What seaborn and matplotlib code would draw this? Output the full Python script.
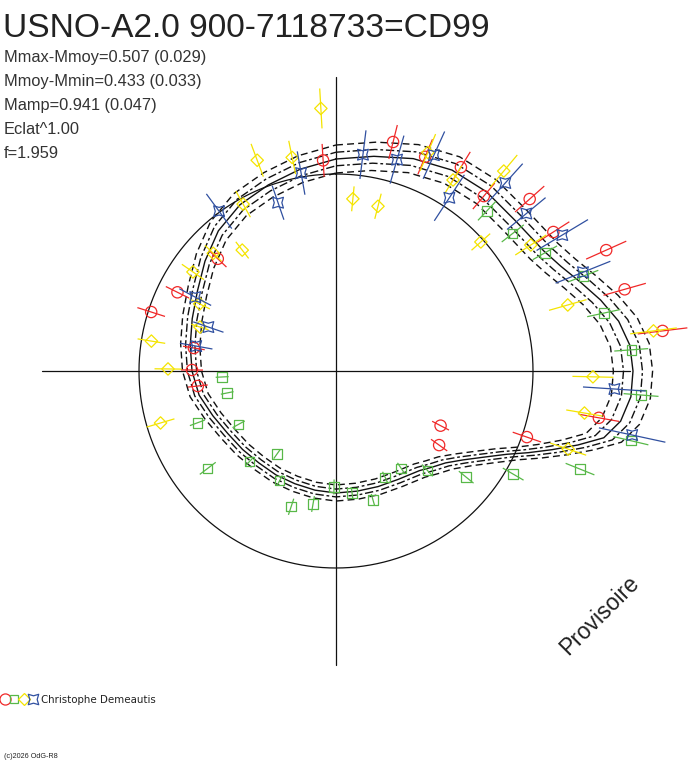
import numpy as np
import pandas as pd
import matplotlib
matplotlib.use("Agg")
import matplotlib.pyplot as plt
import seaborn as sns
from matplotlib.path import Path
from matplotlib.lines import Line2D
from matplotlib.legend_handler import HandlerTuple

sns.set_theme(style="white")
plt.rcParams['font.family'] = ['Liberation Sans', 'DejaVu Sans']

# ---------------- data ----------------
title = "USNO-A2.0 900-7118733=CD99"
stats = ["Mmax-Mmoy=0.507 (0.029)", "Mmoy-Mmin=0.433 (0.033)",
         "Mamp=0.941 (0.047)", "Eclat^1.00", "f=1.959"]
observer = "Christophe Demeautis"
watermark = "Provisoire"
copyright_txt = "(c)2026 OdG-R8"

# model light curve (phase angle in degrees, radius)
curve_theta = [0, 10, 20, 30, 40, 50, 60, 65, 70, 75, 80, 85, 90, 95, 100, 104, 107,
               110, 113, 116, 120, 125, 130, 135, 140, 150, 160, 170, 180, 190, 200,
               210, 220, 230, 240, 250, 260, 270, 280, 290, 300, 310, 320, 330, 340, 350]
curve_r = [212, 218, 226, 232, 234, 234, 240, 248, 260, 274, 287, 295, 297, 296, 289, 276, 253,
           230, 209, 190, 172, 155, 143, 136, 130, 125, 123, 122, 122, 121, 120,
           120, 120, 122, 125, 131, 139, 144, 148, 153, 160, 171, 183, 192, 198, 205]
band_inner = 0.032
band_outer = 0.066
ref_radius = 197
axis_len = 294

red_theta = [356.5, 14.0, 22.6, 31.5, 40.2, 48.4, 57.4, 65.9, 74.2, 83.0, 100.1, 109.1,
             117.6, 125.7, 313.5, 296.4, 287.7, 279.2, 270.4, 263.8]
red_r = [211, 236, 232, 239, 229, 259, 258, 296, 300, 329, 267, 202, 118, 127, 163, 177,
         194, 144, 144, 139]
red_err = [16.5, 17.5, 19, 18, 17, 19.5, 19, 22, 22, 25, 20.5, 15, 9.5, 10, 12, 13, 14.5,
           11, 11, 10]

green_theta = [43.3, 52.1, 60.5, 69.0, 77.8, 85.9, 94.5, 103.3, 111.9, 120.2, 129.2, 137.4,
               146.2, 155.2, 164.0, 172.5, 181.0, 189.8, 198.3, 207.2, 215.4, 223.7, 232.8,
               241.3, 249.5, 258.6, 267.0]
green_r = [220, 224, 240, 265, 274, 296, 306, 303, 263, 205, 168, 135, 117, 117, 134, 123,
           116, 135, 143, 123, 102, 125, 161, 111, 148, 111, 114]
green_err = [13, 14, 14, 16, 17, 17, 17.5, 18, 15.5, 12, 9.5, 8, 6.5, 6, 6, 6, 7.5, 8, 8.5,
             5.5, 5.5, 6, 10, 7, 8, 6.5, 6.5]

yellow_theta = [356.7, 339.5, 348.4, 330.9, 322.2, 313.8, 304.7, 296.2, 287.9, 279.2, 270.7,
                253.5, 5.6, 14.3, 22.8, 40.0, 31.5, 48.3, 57.1, 74.1, 82.8, 91.3, 99.6, 108.6]
yellow_r = [263, 225, 218, 191, 153, 170, 174, 152, 143, 187, 168, 183, 173, 170, 237, 261,
            224, 194, 232, 241, 320, 257, 252, 245]
yellow_err = [20, 17.5, 17, 15, 10.5, 11.5, 13.5, 11.5, 9, 14, 13.5, 14.5, 12.5, 13, 20, 21,
              17, 12.5, 18.5, 19.5, 23.5, 20.5, 18.5, 19]

blue_theta = [323.8, 341.0, 350.0, 7.1, 16.1, 24.4, 33.2, 42.0, 50.4, 59.0, 68.2, 93.7,
              102.2, 289.0, 280.1, 297.7]
blue_r = [198, 178, 201, 218, 220, 237, 207, 253, 247, 264, 266, 279, 303, 135, 142, 159]
blue_err = [21.5, 18, 22, 24.5, 25, 26, 27.5, 26, 25, 30, 29.5, 31.5, 34, 16, 16.5, 18]

# ---------------- styles ----------------
RED, GREEN, YELLOW, BLUE = "#f02828", "#58b848", "#f4e400", "#3050a0"
star_verts = []
for k in range(4):
    a_out = np.deg2rad(45 + 90 * k)
    a_in = np.deg2rad(90 + 90 * k)
    star_verts.append((np.cos(a_out), np.sin(a_out)))
    star_verts.append((0.5 * np.cos(a_in), 0.5 * np.sin(a_in)))
star_verts.append(star_verts[0])
star_marker = Path(star_verts, closed=True)

W, H = 688, 768
cx, cy = 336, 371
R = 380
fig = plt.figure(figsize=(W / 100, H / 100), dpi=100)
ax = fig.add_axes([(cx - R) / W, (H - cy - R) / H, 2 * R / W, 2 * R / H], projection="polar")
ax.set_theta_zero_location("N")
ax.set_theta_direction(-1)
ax.set_rlim(0, R)
ax.grid(False)
ax.set_xticks([])
ax.set_yticks([])
ax.spines["polar"].set_visible(False)
ax.patch.set_alpha(0)

# axes cross and reference circle
for a in [0, 90, 180, 270]:
    ax.plot([np.deg2rad(a)] * 2, [0, axis_len], color="#111111", lw=0.9, zorder=1)
circ_t = np.linspace(0, 2 * np.pi, 361)
ax.plot(circ_t, np.full_like(circ_t, ref_radius), color="#111111", lw=0.9, zorder=1)

# model curve + bands
th = np.deg2rad(np.array(curve_theta + [curve_theta[0] + 360]))
rr = np.array(curve_r + [curve_r[0]], dtype=float)
bands = [(0, "-", 1.0), (band_inner, (0, (6, 2, 2, 2)), 1.0), (-band_inner, (0, (6, 2, 2, 2)), 1.0),
         (band_outer, (0, (5, 3)), 1.0), (-band_outer, (0, (5, 3)), 1.0)]
for off, ls, lw in bands:
    df = pd.DataFrame({"theta": th, "r": rr * (1 + off)})
    sns.lineplot(data=df, x="theta", y="r", sort=False, estimator=None, ax=ax,
                 color="#111111", linewidth=lw, linestyle=ls, zorder=2)

series = [
    (red_theta, red_r, red_err, RED, "o", 66, 8.0),
    (green_theta, green_r, green_err, GREEN, "s", 46, 5.6),
    (yellow_theta, yellow_r, yellow_err, YELLOW, "D", 40, 6.0),
    (blue_theta, blue_r, blue_err, BLUE, star_marker, 60, 7.5),
]
handles = []
for i, (t, r, e, col, mk, s, lms) in enumerate(series):
    t = np.deg2rad(np.array(t))
    r = np.array(r, dtype=float)
    e = np.array(e, dtype=float)
    ax.vlines(t, r - e, r + e, colors=col, lw=0.9, zorder=3 + i)
    df = pd.DataFrame({"theta": t, "r": r})
    sns.scatterplot(data=df, x="theta", y="r", ax=ax, marker=mk, s=s,
                    facecolor="none", edgecolor=col, linewidth=0.9, zorder=3.5 + i, legend=False)
    handles.append(Line2D([], [], ls="none", marker=mk, markersize=lms,
                          markerfacecolor="none", markeredgecolor=col, markeredgewidth=0.9))
ax.set_xlabel("")
ax.set_ylabel("")

# texts
fig.text(3 / W, 1 - 37 / H, title, fontsize=24.1, color="#222222", va="baseline", ha="left")
for k, s in enumerate(stats):
    fig.text(4 / W, 1 - (62 + 24 * k) / H, s, fontsize=11.8, color="#333333",
             va="baseline", ha="left")
fig.text(600 / W, 1 - 615 / H, watermark, fontsize=16.5, color="#222222", rotation=45,
         ha="center", va="center")
fig.legend([tuple(handles)], [observer], loc="center left",
           bbox_to_anchor=(0, 1 - 700 / H), frameon=False,
           prop={"family": "DejaVu Sans", "size": 7.4},
           handler_map={tuple: HandlerTuple(ndivide=None, pad=0.05)},
           handlelength=3.7, handletextpad=0.3, borderpad=0, borderaxespad=0.0,
           labelcolor="#222222")
fig.text(4 / W, 1 - 756 / H, copyright_txt, fontsize=5.2, color="#222222",
         family=["Liberation Sans Narrow", "Liberation Sans", "DejaVu Sans"],
         va="center", ha="left")

fig.savefig("out.png", dpi=100)
